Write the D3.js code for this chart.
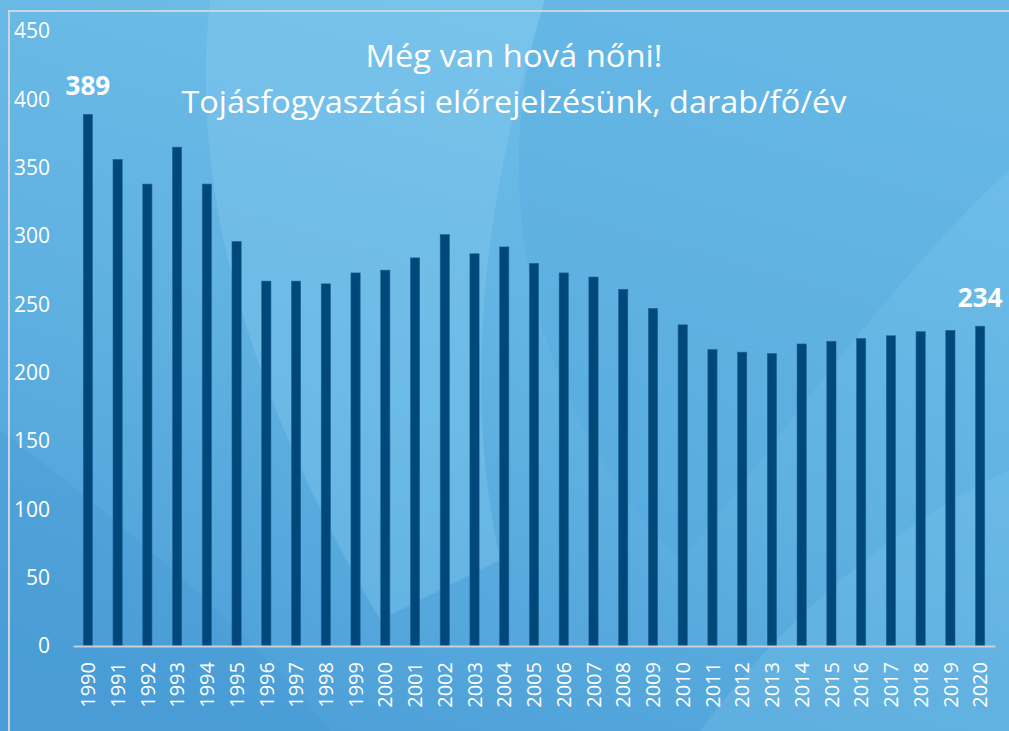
<!DOCTYPE html>
<html>
<head>
<meta charset="utf-8">
<script src="https://cdn.jsdelivr.net/npm/d3@7"></script>
<style>
  html, body { margin: 0; padding: 0; background: #5fb1e1; }
  svg { display: block; }
</style>
</head>
<body>
<svg id="chart"></svg>
<script>
'use strict'

const years = ['1990', '1991', '1992', '1993', '1994', '1995', '1996', '1997', '1998', '1999',
  '2000', '2001', '2002', '2003', '2004', '2005', '2006', '2007', '2008', '2009',
  '2010', '2011', '2012', '2013', '2014', '2015', '2016', '2017', '2018', '2019', '2020']
const consumption = [389, 356, 338, 365, 338, 296, 267, 267, 265, 273,
  275, 284, 301, 287, 292, 280, 273, 270, 261, 247,
  235, 217, 215, 214, 221, 223, 225, 227, 230, 231, 234]
const yTicks = [0, 50, 100, 150, 200, 250, 300, 350, 400, 450]
const labelledYears = ['1990', '2020']
const titleLines = ['Még van hová nőni!', 'Tojásfogyasztási előrejelzésünk, darab/fő/év']

const width = 1009
const height = 731
const fontFamily = '"Open Sans", "Noto Sans", sans-serif'

const svg = d3.select('#chart')
  .attr('width', width)
  .attr('height', height)

// background: gradient + a few soft shapes like the slide template
const defs = svg.append('defs')
const bg = defs.append('linearGradient')
  .attr('id', 'bg')
  .attr('x1', 0.6).attr('y1', 0)
  .attr('x2', 0.2).attr('y2', 1)
bg.append('stop').attr('offset', 0).attr('stop-color', '#70bfe9')
bg.append('stop').attr('offset', 0.55).attr('stop-color', '#5eb0e1')
bg.append('stop').attr('offset', 1).attr('stop-color', '#4c9fd7')

svg.append('rect')
  .attr('width', width)
  .attr('height', height)
  .attr('fill', 'url(#bg)')

// lighter band in the upper middle
svg.append('path')
  .attr('d', 'M210,0 C190,180 240,380 380,620 L500,560 C470,420 470,240 545,0 Z')
  .attr('fill', '#8fd0f1')
  .attr('opacity', 0.3)
// darker sweep on the right
svg.append('path')
  .attr('d', 'M545,0 C480,200 540,420 680,560 C760,470 870,300 1009,170 L1009,0 Z')
  .attr('fill', '#4ea6dc')
  .attr('opacity', 0.3)
// light diagonal at bottom right
svg.append('path')
  .attr('d', 'M1009,470 C900,520 780,620 700,731 L1009,731 Z')
  .attr('fill', '#7cc5ec')
  .attr('opacity', 0.3)
// darker lower left
svg.append('path')
  .attr('d', 'M0,430 C120,520 260,640 330,731 L0,731 Z')
  .attr('fill', '#3f93cf')
  .attr('opacity', 0.25)

// frame lines (top and left)
svg.append('path')
  .attr('d', `M9,${height} L9,11 L${width},11`)
  .attr('fill', 'none')
  .attr('stroke', '#c9d6df')
  .attr('stroke-width', 2)

const x = d3.scaleBand()
  .domain(years)
  .range([73, 995])
  .paddingInner(0.69)
  .paddingOuter(0.345)

const y = d3.scaleLinear()
  .domain([0, 450])
  .range([646, 31])

const data = years.map((year, i) => ({ year, value: consumption[i] }))

// y axis labels
const yAxis = svg.append('g')
  .attr('transform', 'translate(50,0)')
  .call(d3.axisLeft(y).tickValues(yTicks).tickSize(0).tickPadding(0))
yAxis.select('.domain').remove()
yAxis.selectAll('text')
  .attr('fill', '#ffffff')
  .attr('font-size', 21)
  .attr('font-family', fontFamily)

// bars
svg.append('g')
  .selectAll('rect')
  .data(data)
  .enter().append('rect')
  .attr('x', d => x(d.year))
  .attr('y', d => y(d.value))
  .attr('width', x.bandwidth())
  .attr('height', d => y(0) - y(d.value))
  .attr('fill', '#00487a')
  .attr('stroke', '#1c6597')
  .attr('stroke-width', 0.6)

// x axis baseline and year labels
const xAxis = svg.append('g')
  .attr('transform', `translate(0,${y(0)})`)
  .call(d3.axisBottom(x).tickSize(0).tickPadding(0))
xAxis.select('.domain')
  .attr('stroke', '#c8d0d6')
  .attr('stroke-width', 2)
xAxis.selectAll('text')
  .attr('fill', '#ffffff')
  .attr('font-size', 20)
  .attr('font-family', fontFamily)
  .attr('text-anchor', 'end')
  .attr('transform', 'rotate(-90)')
  .attr('x', -16)
  .attr('y', 0)
  .attr('dy', '0.36em')

// value labels on first and last bar
svg.append('g')
  .selectAll('text')
  .data(data.filter(d => labelledYears.includes(d.year)))
  .enter().append('text')
  .attr('x', d => x(d.year) + x.bandwidth() / 2)
  .attr('y', d => y(d.value) - 19)
  .attr('text-anchor', 'middle')
  .attr('fill', '#ffffff')
  .attr('font-size', 26)
  .attr('font-weight', 'bold')
  .attr('font-family', fontFamily)
  .text(d => d.value)

// title
svg.append('g')
  .selectAll('text')
  .data(titleLines)
  .enter().append('text')
  .attr('x', 514)
  .attr('y', (d, i) => 67 + i * 46)
  .attr('text-anchor', 'middle')
  .attr('fill', '#ffffff')
  .attr('font-size', 31)
  .attr('font-family', fontFamily)
  .attr('textLength', (d, i) => i === 0 ? 297 : 665)
  .attr('lengthAdjust', 'spacingAndGlyphs')
  .text(d => d)
</script>
</body>
</html>
